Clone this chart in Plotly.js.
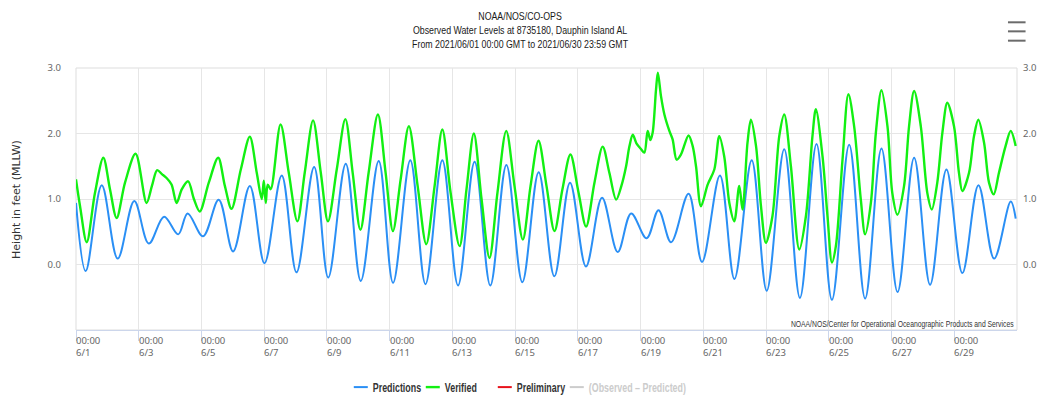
<!DOCTYPE html>
<html>
<head>
<meta charset="utf-8">
<script src="https://cdn.plot.ly/plotly-3.0.1.min.js"></script>
<style>
  html, body { margin: 0; padding: 0; background: #fff; }
  #chart { width: 1038px; height: 395px; }
</style>
</head>
<body>
<div id="chart"></div>
<script>
// Water levels at station 8735180 (Dauphin Island, AL), June 2021.
// Times are hours after 2021-06-01 00:00 GMT; heights in feet above MLLW.

// Predicted tide: turning points (highs and lows) of the harmonic prediction
const predHours = [0, 7.4, 19.7, 31.9, 44.6, 55.7, 67.4, 78.2, 85.4, 97.2, 109.2, 120.2, 133.0, 144.2,
  157.4, 168.7, 182.2, 193.0, 206.4, 217.9, 231.6, 242.6, 255.8, 267.4, 280.3, 292.3, 305.0, 317.0,
  329.3, 341.5, 354.0, 366.0, 378.0, 390.2, 402.5, 414.5, 424.8, 436.6, 445.7, 455.3, 468.7, 479.0,
  492.7, 503.8, 517.0, 528.5, 541.9, 553.9, 566.6, 578.4, 591.6, 603.8, 616.3, 628.6, 641.3, 653.5,
  666.0, 678.2, 690.5, 702.5, 715.2, 719.0];
const predFeet = [0.94, -0.10, 1.21, 0.09, 0.97, 0.32, 0.73, 0.46, 0.78, 0.43, 0.99, 0.20, 1.20, 0.02,
  1.36, -0.12, 1.49, -0.20, 1.54, -0.25, 1.58, -0.28, 1.59, -0.30, 1.59, -0.32, 1.57, -0.32,
  1.52, -0.27, 1.41, -0.18, 1.25, -0.03, 1.02, 0.19, 0.78, 0.40, 0.83, 0.34, 1.08, 0.04,
  1.36, -0.22, 1.59, -0.40, 1.76, -0.51, 1.84, -0.54, 1.83, -0.52, 1.77, -0.42, 1.63, -0.31,
  1.45, -0.13, 1.21, 0.09, 0.96, 0.70];

// Verified observations
const obsHours = [0, 3.1, 8.2, 14.5, 20.9, 26.0, 31.1, 37.5, 45.6, 54.0, 58.1, 62.1, 65.7, 69.3, 73.1,
  77.0, 81.0, 85.8, 90.2, 94.7, 101.6, 108.8, 113.9, 119.0, 126.1, 133.0, 138.3, 142.1, 143.7, 145.2,
  146.7, 149.0, 156.5, 162.8, 169.4, 175.0, 181.4, 187.3, 192.8, 199.5, 206.1, 211.7, 217.6, 223.9,
  231.0, 236.9, 242.5, 248.4, 254.7, 261.4, 268.0, 274.4, 280.3, 286.6, 293.5, 298.8, 304.4, 310.3,
  316.4, 322.5, 329.2, 335.5, 341.9, 347.8, 353.9, 360.0, 366.1, 372.2, 378.3, 384.5, 390.3, 396.7,
  403.0, 408.1, 413.3, 417.3, 420.9, 423.4, 426.0, 428.8, 432.4, 434.9, 437.4, 439.5, 441.2, 443.8,
  445.2, 447.6, 450.2, 454.0, 456.5, 459.6, 462.9, 468.7, 471.8, 474.4, 478.2, 483.3, 488.4, 492.2,
  496.0, 499.9, 503.7, 507.5, 510.0, 513.8, 516.4, 520.3, 524.1, 527.9, 532.9, 538.1, 541.9, 547.0,
  553.4, 558.5, 563.5, 566.1, 571.2, 575.0, 578.4, 581.4, 586.5, 591.0, 595.4, 600.5, 603.8, 608.2,
  612.0, 616.3, 620.9, 624.6, 628.5, 633.6, 637.4, 641.3, 646.4, 651.4, 654.8, 659.0, 662.9, 666.7,
  671.8, 675.6, 678.2, 683.3, 687.1, 690.4, 694.8, 698.6, 702.2, 706.2, 711.3, 715.2, 719.0];
const obsFeet = [1.30, 0.89, 0.34, 1.09, 1.63, 1.15, 0.71, 1.25, 1.69, 0.94, 1.20, 1.44, 1.38, 1.32, 1.22,
  0.94, 1.15, 1.27, 1.00, 0.81, 1.25, 1.63, 1.20, 0.85, 1.45, 1.95, 1.40, 1.00, 1.28, 0.94,
  1.22, 1.15, 2.14, 1.40, 0.66, 1.40, 2.20, 1.40, 0.66, 1.45, 2.22, 1.40, 0.53, 1.40,
  2.29, 1.40, 0.51, 1.30, 2.11, 1.20, 0.31, 1.20, 2.06, 1.10, 0.28, 1.15, 2.00, 1.00,
  0.10, 1.10, 2.04, 1.20, 0.38, 1.20, 1.89, 1.20, 0.51, 1.15, 1.68, 1.10, 0.58, 1.25,
  1.80, 1.40, 0.99, 1.20, 1.50, 1.80, 1.98, 1.85, 1.76, 1.71, 2.04, 1.90, 2.01, 2.67,
  2.93, 2.57, 2.29, 2.04, 1.91, 1.60, 1.68, 1.97, 1.81, 1.50, 0.89, 1.22, 1.45, 1.96,
  1.65, 0.94, 0.66, 1.20, 0.84, 1.86, 2.21, 1.81, 0.89, 0.33, 0.74, 1.96, 2.29, 1.50,
  0.23, 0.74, 1.96, 2.37, 1.65, 0.74, 0.03, 0.28, 1.60, 2.60, 2.11, 0.99, 0.46, 0.94,
  2.01, 2.66, 2.11, 1.09, 0.76, 1.20, 2.11, 2.65, 2.11, 1.09, 0.84, 1.25, 2.01, 2.47,
  2.11, 1.40, 1.12, 1.40, 1.96, 2.21, 1.86, 1.25, 1.07, 1.40, 1.81, 2.04, 1.81];

// Preliminary data: none in this period
const prelimHours = [];
const prelimFeet = [];

// Axis ticks
const dayTicks = ['2021-06-01', '2021-06-03', '2021-06-05', '2021-06-07', '2021-06-09', '2021-06-11',
  '2021-06-13', '2021-06-15', '2021-06-17', '2021-06-19', '2021-06-21', '2021-06-23', '2021-06-25',
  '2021-06-27', '2021-06-29'];
const dayTickTime = '00:00';
const dayTickLabels = ['6/1', '6/3', '6/5', '6/7', '6/9', '6/11', '6/13', '6/15', '6/17', '6/19',
  '6/21', '6/23', '6/25', '6/27', '6/29'];
const heightTicks = [0, 1, 2, 3];

const T0 = Date.UTC(2021, 5, 1);
function toDate(h) {
  return new Date(T0 + h * 3600000).toISOString().replace('T', ' ').slice(0, 19);
}

const tickFont = { family: 'Noto Sans, DejaVu Sans, sans-serif', size: 9.5, color: '#666666' };
const CREDIT = 'NOAA/NOS/Center for Operational Oceanographic Products and Services';

const traces = [
  {
    name: 'Predictions', type: 'scatter', mode: 'lines',
    x: predHours.map(toDate), y: predFeet,
    line: { color: '#2a8ff5', width: 2, shape: 'spline', smoothing: 1 },
    hoverinfo: 'x+y'
  },
  {
    name: 'Verified', type: 'scatter', mode: 'lines',
    x: obsHours.map(toDate), y: obsFeet,
    line: { color: '#12f012', width: 2.4, shape: 'spline', smoothing: 0.9 },
    hoverinfo: 'x+y'
  },
  {
    name: 'Preliminary', type: 'scatter', mode: 'lines',
    x: prelimHours.length ? prelimHours.map(toDate) : [null],
    y: prelimFeet.length ? prelimFeet : [null],
    line: { color: '#e8121b', width: 2 }, yaxis: 'y2'
  },
  {
    name: '<span style="color:#cccccc">(Observed – Predicted)</span>', type: 'scatter', mode: 'lines',
    x: [null], y: [null],
    line: { color: '#cccccc', width: 2 }
  }
];

const annotations = [];
dayTicks.forEach((d, i) => {
  annotations.push({
    xref: 'x', yref: 'paper', x: d, y: -0.006, xanchor: 'left', yanchor: 'top',
    xshift: -2, align: 'left', showarrow: false,
    text: dayTickTime + '<br>' + dayTickLabels[i], font: tickFont
  });
});
annotations.push({
  xref: 'paper', yref: 'paper', x: -0.0638, y: 0.5, xanchor: 'center', yanchor: 'middle',
  textangle: -90, showarrow: false, text: 'Height in feet (MLLW)',
  font: { family: 'DejaVu Sans, sans-serif', size: 11, color: '#333333' }
});
annotations.push({
  xref: 'paper', yref: 'paper', x: 0.9985, y: 0.024, xanchor: 'right', yanchor: 'middle',
  showarrow: false, text: CREDIT,
  font: { family: 'Liberation Sans, sans-serif', size: 8.5, color: '#333333' }
});

// menu icon (three bars) in the top-right corner
const menuBars = [1.1744, 1.1399, 1.1043].map(y => ({
  type: 'line', xref: 'paper', yref: 'paper', x0: 0.9904, x1: 1.0091, y0: y, y1: y,
  line: { color: '#6b6b6b', width: 2 }
}));

const layout = {
  width: 1038, height: 395,
  margin: { l: 76, r: 21, t: 68, b: 65, autoexpand: false },
  paper_bgcolor: '#ffffff', plot_bgcolor: '#ffffff',
  title: {
    text: 'NOAA/NOS/CO-OPS<br>Observed Water Levels at 8735180, Dauphin Island AL<br>From 2021/06/01 00:00 GMT to 2021/06/30 23:59 GMT',
    xref: 'container', yref: 'container', x: 0.501, y: 0.95, xanchor: 'center', yanchor: 'top',
    font: { family: 'Liberation Sans, sans-serif', size: 11, color: '#1a1a1a' }
  },
  xaxis: {
    type: 'date', range: ['2021-06-01 00:00', '2021-07-01 00:00'],
    tickvals: dayTicks, showticklabels: false,
    ticks: 'outside', ticklen: 10, tickcolor: '#ccd6eb', tickwidth: 1,
    showline: true, linecolor: '#ccd6eb', linewidth: 1,
    showgrid: true, gridcolor: '#e6e6e6', gridwidth: 1, zeroline: false, fixedrange: true
  },
  yaxis: {
    range: [-1, 3], tickvals: heightTicks, tickformat: '.1f',
    showgrid: true, gridcolor: '#e6e6e6', zeroline: false, showline: false,
    ticks: '', ticklabelstandoff: 14, tickfont: tickFont, fixedrange: true
  },
  yaxis2: {
    range: [-1, 3], tickvals: heightTicks, tickformat: '.1f', overlaying: 'y', side: 'right',
    showgrid: false, zeroline: false, showline: false,
    ticks: '', ticklabelstandoff: 5, tickfont: tickFont, fixedrange: true
  },
  shapes: [
    { type: 'rect', xref: 'paper', yref: 'paper', x0: 0, x1: 1, y0: 0, y1: 1,
      line: { color: '#dddddd', width: 1 }, layer: 'below' }
  ].concat(menuBars),
  annotations: annotations,
  showlegend: true,
  legend: {
    orientation: 'h', xref: 'container', yref: 'container', x: 0.3206, xanchor: 'left',
    y: 0.02, yanchor: 'middle',
    itemwidth: 30, traceorder: 'normal', entrywidth: 27, entrywidthmode: 'pixels',
    font: { family: 'Liberation Sans, sans-serif', size: 12, color: '#333333', weight: 'bold' },
    bgcolor: 'rgba(0,0,0,0)'
  },
  hovermode: 'closest'
};

// Narrow the rendered text horizontally around a chosen anchor
function condense(node, k, anchor) {
  const b = node.getBBox();
  const cx = anchor === 'start' ? b.x : anchor === 'end' ? b.x + b.width : b.x + b.width / 2;
  const prev = node.getAttribute('transform') || '';
  node.setAttribute('transform',
    prev + ' translate(' + cx + ',0) scale(' + k + ',1) translate(' + (-cx) + ',0)');
}

Plotly.newPlot('chart', traces, layout, { displayModeBar: false, responsive: false }).then(gd => {
  gd.querySelectorAll('.gtitle').forEach(n => condense(n, 0.8, 'middle'));
  gd.querySelectorAll('.legendtext').forEach(n => condense(n, 0.74, 'start'));
  // short legend line keys, ending just before the entry text
  gd.querySelectorAll('.legendlines path').forEach(p => p.setAttribute('d', 'M21,0h14'));
  // let the last legend entry run past the fixed entry width
  gd.querySelectorAll('.legend [clip-path]').forEach(n => n.removeAttribute('clip-path'));
  gd.querySelectorAll('.annotation-text').forEach(n => {
    if (n.textContent === CREDIT) condense(n, 0.8, 'end');
  });
});
</script>
</body>
</html>
